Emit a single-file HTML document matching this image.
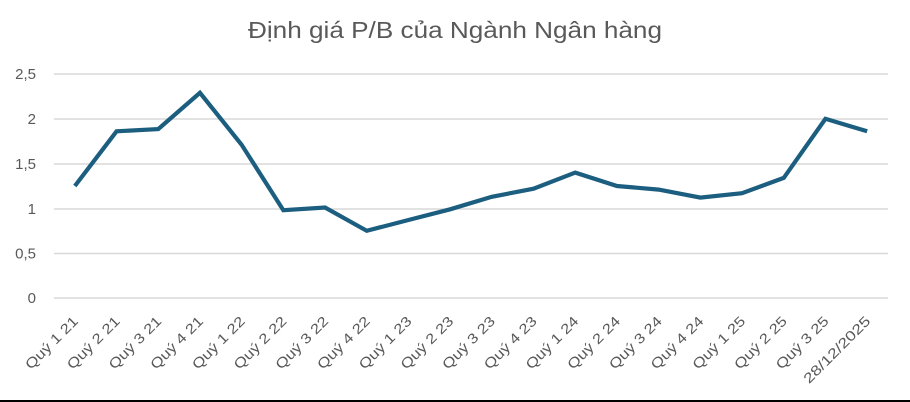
<!DOCTYPE html>
<html>
<head>
<meta charset="utf-8">
<style>
  html, body { margin: 0; padding: 0; background: #ffffff; }
  svg { display: block; }
  text { font-family: "Liberation Sans", "DejaVu Sans", sans-serif; fill: #595959; }
</style>
</head>
<body>
<svg width="910" height="402" viewBox="0 0 910 402" xmlns="http://www.w3.org/2000/svg">
  <rect x="0" y="0" width="910" height="402" fill="#ffffff"/>
  <!-- Title -->
  <text x="455" y="38" font-size="23" text-anchor="middle" textLength="414" lengthAdjust="spacingAndGlyphs">Định giá P/B của Ngành Ngân hàng</text>

  <!-- Gridlines -->
  <g stroke="#d9d9d9" stroke-width="1.4">
    <line x1="54" y1="74" x2="888" y2="74"/>
    <line x1="54" y1="119" x2="888" y2="119"/>
    <line x1="54" y1="164" x2="888" y2="164"/>
    <line x1="54" y1="209" x2="888" y2="209"/>
    <line x1="54" y1="253.5" x2="888" y2="253.5"/>
    <line x1="54" y1="298" x2="888" y2="298"/>
  </g>

  <!-- Y axis labels -->
  <g font-size="15" text-anchor="end">
    <text x="36" y="79">2,5</text>
    <text x="36" y="124">2</text>
    <text x="36" y="169">1,5</text>
    <text x="36" y="214">1</text>
    <text x="36" y="258.5">0,5</text>
    <text x="36" y="303">0</text>
  </g>

  <!-- Series -->
  <polyline fill="none" stroke="#1b5e7f" stroke-width="4.2" stroke-linejoin="miter" stroke-linecap="butt"
    points="74.85,186 116.55,131.3 158.25,129.1 199.95,92.8 241.65,144.8 283.35,210.2 325.05,207.5 366.75,230.8 408.45,220 450.15,209.3 491.85,196.8 533.55,188.7 575.25,172.6 616.95,186 658.65,189.6 700.35,197.6 742.05,193.2 783.75,177.9 825.45,118.8 867.15,131.3"/>

  <!-- X axis labels -->
  <g font-size="14" text-anchor="end">
    <text transform="translate(79,322) rotate(-45)" textLength="68" lengthAdjust="spacingAndGlyphs">Quý 1 21</text>
    <text transform="translate(120.7,322) rotate(-45)" textLength="68" lengthAdjust="spacingAndGlyphs">Quý 2 21</text>
    <text transform="translate(162.4,322) rotate(-45)" textLength="68" lengthAdjust="spacingAndGlyphs">Quý 3 21</text>
    <text transform="translate(204.1,322) rotate(-45)" textLength="68" lengthAdjust="spacingAndGlyphs">Quý 4 21</text>
    <text transform="translate(245.8,322) rotate(-45)" textLength="68" lengthAdjust="spacingAndGlyphs">Quý 1 22</text>
    <text transform="translate(287.5,322) rotate(-45)" textLength="68" lengthAdjust="spacingAndGlyphs">Quý 2 22</text>
    <text transform="translate(329.2,322) rotate(-45)" textLength="68" lengthAdjust="spacingAndGlyphs">Quý 3 22</text>
    <text transform="translate(370.9,322) rotate(-45)" textLength="68" lengthAdjust="spacingAndGlyphs">Quý 4 22</text>
    <text transform="translate(412.6,322) rotate(-45)" textLength="68" lengthAdjust="spacingAndGlyphs">Quý 1 23</text>
    <text transform="translate(454.3,322) rotate(-45)" textLength="68" lengthAdjust="spacingAndGlyphs">Quý 2 23</text>
    <text transform="translate(496,322) rotate(-45)" textLength="68" lengthAdjust="spacingAndGlyphs">Quý 3 23</text>
    <text transform="translate(537.7,322) rotate(-45)" textLength="68" lengthAdjust="spacingAndGlyphs">Quý 4 23</text>
    <text transform="translate(579.4,322) rotate(-45)" textLength="68" lengthAdjust="spacingAndGlyphs">Quý 1 24</text>
    <text transform="translate(621.1,322) rotate(-45)" textLength="68" lengthAdjust="spacingAndGlyphs">Quý 2 24</text>
    <text transform="translate(662.8,322) rotate(-45)" textLength="68" lengthAdjust="spacingAndGlyphs">Quý 3 24</text>
    <text transform="translate(704.5,322) rotate(-45)" textLength="68" lengthAdjust="spacingAndGlyphs">Quý 4 24</text>
    <text transform="translate(746.2,322) rotate(-45)" textLength="68" lengthAdjust="spacingAndGlyphs">Quý 1 25</text>
    <text transform="translate(787.9,322) rotate(-45)" textLength="68" lengthAdjust="spacingAndGlyphs">Quý 2 25</text>
    <text transform="translate(829.6,322) rotate(-45)" textLength="68" lengthAdjust="spacingAndGlyphs">Quý 3 25</text>
    <text transform="translate(871.3,322) rotate(-45)" textLength="88" lengthAdjust="spacingAndGlyphs">28/12/2025</text>
  </g>

  <!-- Bottom border -->
  <rect x="0" y="400" width="910" height="2" fill="#000000"/>
</svg>
</body>
</html>
